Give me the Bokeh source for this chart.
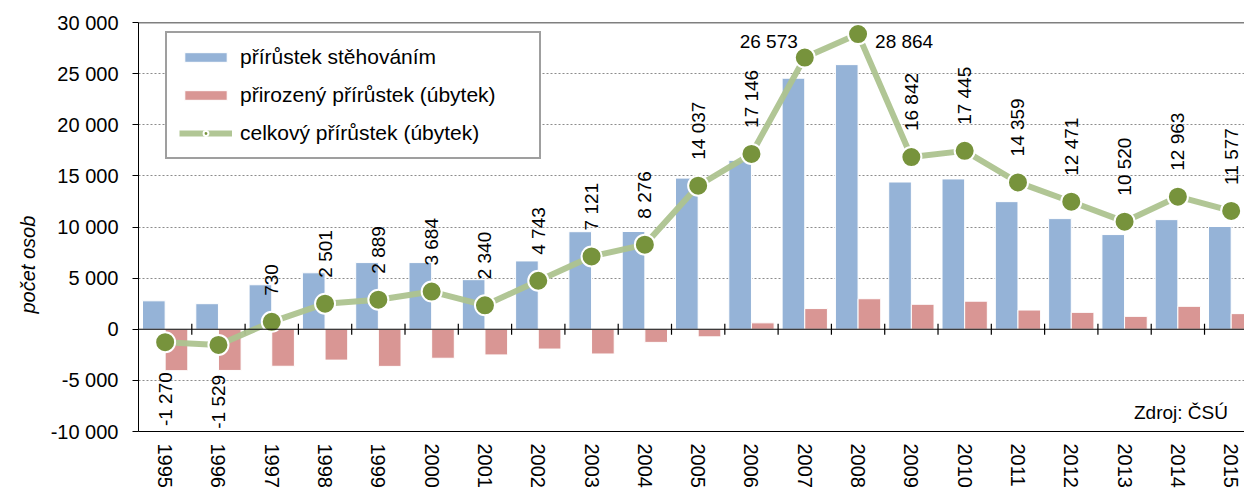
import numpy as np
from bokeh.plotting import figure
from bokeh.models import (Range1d, FixedTicker, CustomJSTickFormatter, Title,
                          Legend, LegendItem, Label, Span, ColumnDataSource)
from bokeh.core.properties import value
from bokeh.embed import file_html
from bokeh.resources import INLINE

# ---------------- data ----------------
years = [1995, 1996, 1997, 1998, 1999, 2000, 2001, 2002, 2003, 2004, 2005,
         2006, 2007, 2008, 2009, 2010, 2011, 2012, 2013, 2014, 2015]
migration = [2780, 2500, 4350, 5520, 6520, 6520, 4850, 6680, 9540, 9560, 14780,
             16520, 24550, 25880, 14400, 14700, 12480, 10820, 9260, 10720, 10050]
natural = [-4050, -4029, -3620, -3019, -3631, -2836, -2510, -1937, -2419, -1284, -743,
           626, 2023, 2984, 2442, 2745, 1879, 1651, 1260, 2243, 1527]
total = [-1270, -1529, 730, 2501, 2889, 3684, 2340, 4743, 7121, 8276, 14037,
         17146, 26573, 28864, 16842, 17445, 14359, 12471, 10520, 12963, 11577]
horizontal_label_years = [2007, 2008]
y_ticks = [-10000, -5000, 0, 5000, 10000, 15000, 20000, 25000, 30000]
legend_labels = ["přírůstek stěhováním", "přirozený přírůstek (úbytek)", "celkový přírůstek (úbytek)"]
y_title = "počet osob"
source_note = "Zdroj: ČSÚ"

FONT = "Liberation Sans"
BLUE = "#95B3D7"
RED = "#D99694"
LINE_GREEN = "#ADC38F"
DOT_GREEN = "#77933C"


def fmt(v):
    s = f"{abs(v):,}".replace(",", " ")
    return ("-" if v < 0 else "") + s


n = len(years)
centers = np.arange(n) + 0.5
boundaries = np.arange(1, n)
bw = 0.425

p = figure(width=1244, height=490,
           x_range=Range1d(0, 20.75), y_range=Range1d(-10000, 30000),
           output_backend="svg", toolbar_location=None,
           min_border_left=138, min_border_right=0,
           min_border_top=22, min_border_bottom=59)
p.outline_line_color = None
p.background_fill_color = "white"
p.border_fill_color = "white"

# grid
p.xgrid.visible = False
p.ygrid.ticker = FixedTicker(ticks=[t for t in y_ticks if t not in (-10000, 0, 30000)])
p.ygrid.grid_line_color = "#8C8C8C"
p.ygrid.grid_line_dash = "2 2"
p.ygrid.grid_line_width = 1

# y axis
ya = p.yaxis[0]
ya.ticker = FixedTicker(ticks=y_ticks)
ya.formatter = CustomJSTickFormatter(code="""
    var s = Math.abs(tick).toFixed(0).replace(/\\B(?=(\\d{3})+(?!\\d))/g, " ");
    return (tick < 0 ? "-" : "") + s;
""")
ya.major_tick_out = 6
ya.major_tick_in = 0
ya.minor_tick_out = 0
ya.minor_tick_in = 0
ya.major_label_standoff = 14
ya.major_label_text_font = FONT
ya.major_label_text_font_size = "20px"
ya.major_label_text_color = "black"
ya.axis_line_color = "black"
ya.major_tick_line_color = "black"

# axis title on the left, placed lower as in the reference
p.add_layout(Title(text=y_title, align="left", offset=118, standoff=17,
                   text_font=FONT, text_font_size="20px", text_font_style="italic",
                   text_color="black"), "left")

# x axis (bottom, year labels)
xa = p.xaxis[0]
xa.ticker = FixedTicker(ticks=list(centers))
xa.formatter = CustomJSTickFormatter(args=dict(years=[str(y) for y in years]),
                                     code="return years[Math.floor(tick)];")
xa.major_label_orientation = "vertical"
xa.major_tick_out = 0
xa.major_tick_in = 0
xa.minor_tick_out = 0
xa.minor_tick_in = 0
xa.major_label_standoff = 12
xa.major_label_text_font = FONT
xa.major_label_text_font_size = "20px"
xa.major_label_text_color = "black"
xa.axis_line_color = "black"

# top border
p.add_layout(Span(location=30000, dimension="width", line_color="black", line_width=1.5))

# bars
rb = p.vbar(x=centers - bw / 2, top=migration, bottom=0, width=bw,
            fill_color=BLUE, line_color="white", line_width=1)
rr = p.vbar(x=centers + bw / 2, top=natural, bottom=0, width=bw,
            fill_color=RED, line_color="white", line_width=1)

# zero line with category separator ticks
p.add_layout(Span(location=0, dimension="width", line_color="black", line_width=1.2, level="glyph"))
p.scatter(boundaries, np.zeros(len(boundaries)), marker="dash", angle=np.pi / 2, size=11,
          line_color="black", line_width=1.2)

# total line
rl = p.line(centers, total, line_color=LINE_GREEN, line_width=6, line_alpha=0.95)
rm = p.scatter(centers, total, size=20, fill_color=DOT_GREEN, line_color="white", line_width=2)

# data labels
labels = [fmt(v) for v in total]
pos = [i for i in range(n) if total[i] >= 0 and years[i] not in horizontal_label_years]
neg = [i for i in range(n) if total[i] < 0 and years[i] not in horizontal_label_years]

src_pos = ColumnDataSource(dict(x=centers[pos], y=[total[i] for i in pos], t=[labels[i] for i in pos]))
src_neg = ColumnDataSource(dict(x=centers[neg], y=[total[i] for i in neg], t=[labels[i] for i in neg]))
common = dict(text_font=value(FONT), text_font_size="19px", text_color="black")
p.text(x="x", y="y", text="t", source=src_pos, angle=np.pi / 2, text_align="left",
       text_baseline="middle", y_offset=-26, **common)
p.text(x="x", y="y", text="t", source=src_neg, angle=np.pi / 2, text_align="right",
       text_baseline="middle", y_offset=30, **common)

i07 = years.index(horizontal_label_years[0])
i08 = years.index(horizontal_label_years[1])
p.text(x=[centers[i07]], y=[total[i07]], text=[labels[i07]], text_align="right",
       text_baseline="middle", x_offset=-7, y_offset=-16, **common)
p.text(x=[centers[i08]], y=[total[i08]], text=[labels[i08]], text_align="left",
       text_baseline="middle", x_offset=17, y_offset=7, **common)

# legend
legend = Legend(items=[LegendItem(label=legend_labels[0], renderers=[rb]),
                       LegendItem(label=legend_labels[1], renderers=[rr]),
                       LegendItem(label=legend_labels[2], renderers=[rl, rm])],
                location=(27, 272))
legend.label_text_font = FONT
legend.label_text_font_size = "21px"
legend.label_text_color = "black"
legend.glyph_width = 53
legend.glyph_height = 12
legend.label_height = 24
legend.label_width = 287
legend.label_standoff = 8
legend.spacing = 14
legend.padding = 12
legend.margin = 0
legend.border_line_color = "#404040"
legend.border_line_width = 2
legend.background_fill_color = "white"
legend.background_fill_alpha = 1
p.add_layout(legend, "center")

# source note
p.add_layout(Label(x=20.44, y=-8150, text=source_note, text_align="right",
                   text_baseline="middle", text_font=FONT, text_font_size="19px",
                   text_color="black"))

open("out.html", "w").write(file_html(p, INLINE))
